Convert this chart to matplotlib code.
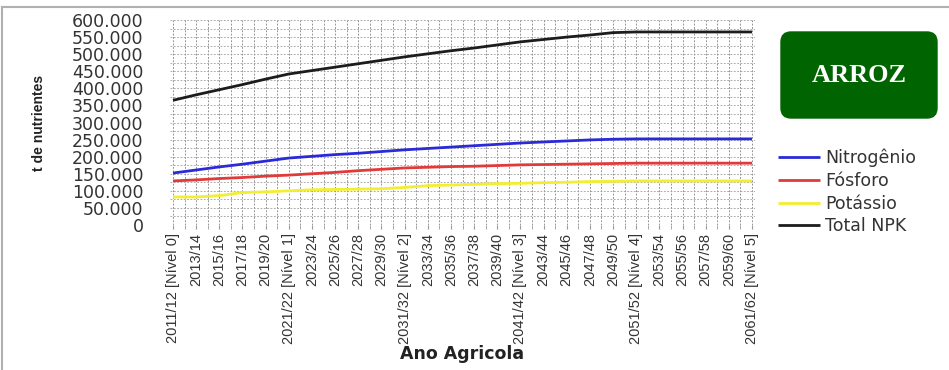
import matplotlib
matplotlib.use("Agg")
import matplotlib.pyplot as plt
from matplotlib.patches import FancyBboxPatch
from matplotlib.lines import Line2D
from matplotlib.ticker import FuncFormatter, MultipleLocator
import numpy as np

# Agricultural years (biennial steps) with target levels
categories = [
    "2011/12 [Nível 0]", "2013/14", "2015/16", "2017/18", "2019/20",
    "2021/22 [Nível 1]", "2023/24", "2025/26", "2027/28", "2029/30",
    "2031/32 [Nível 2]", "2033/34", "2035/36", "2037/38", "2039/40",
    "2041/42 [Nível 3]", "2043/44", "2045/46", "2047/48", "2049/50",
    "2051/52 [Nível 4]", "2053/54", "2055/56", "2057/58", "2059/60",
    "2061/62 [Nível 5]",
]

# Nutrient demand, tonnes
nitrogenio = [152000, 161000, 170000, 178000, 187000, 196000, 201000, 206000, 210000,
              215000, 220000, 224000, 228000, 232000, 236000, 240000, 243000, 246000,
              249000, 251000, 252000, 252000, 252000, 252000, 252000, 252000]
fosforo = [129000, 132000, 136000, 139000, 143000, 146000, 150000, 154000, 159000,
           163000, 167000, 169000, 171000, 172000, 174000, 176000, 177000, 178000,
           179000, 180000, 181000, 181000, 181000, 181000, 181000, 181000]
potassio = [82000, 82000, 86000, 95000, 97000, 100000, 103000, 104000, 105000,
            106000, 110000, 115000, 117000, 119000, 121000, 122000, 124000, 125000,
            127000, 128000, 129000, 129000, 129000, 129000, 129000, 129000]
total_npk = [365000, 381000, 396000, 411000, 427000, 442000, 452000, 462000, 472000,
             482000, 492000, 501000, 510000, 518000, 527000, 536000, 543000, 550000,
             556000, 563000, 565000, 565000, 565000, 565000, 565000, 565000]

series_names = ["Nitrogênio", "Fósforo", "Potássio", "Total NPK"]
series_colors = ["#2a2ad8", "#e03a3a", "#f2ee30", "#1c1c1c"]

W, H = 949, 370
fig = plt.figure(figsize=(W / 100, H / 100), dpi=100)
fig.patch.set_facecolor("white")

left_px, right_px, top_px, bottom_px = 170, 755, 20, 225
ax = fig.add_axes([left_px / W, 1 - bottom_px / H,
                   (right_px - left_px) / W, (bottom_px - top_px) / H])

x = np.arange(len(categories))
for vals, name, col in zip([nitrogenio, fosforo, potassio, total_npk],
                           series_names, series_colors):
    ax.plot(x, vals, color=col, lw=2.0, label=name, solid_capstyle="butt", zorder=3)

ax.set_xlim(-0.13, len(categories) - 1 + 0.13)
ax.set_ylim(0, 600000)

# grid: yearly vertical lines, 25.000 t horizontal lines
ax.set_xticks(x)
ax.xaxis.set_minor_locator(MultipleLocator(0.5))
ax.yaxis.set_major_locator(MultipleLocator(50000))
ax.yaxis.set_minor_locator(MultipleLocator(25000))
ax.grid(which="both", axis="x", color="#808080", lw=0.6, ls=(0, (2.2, 1.8)), zorder=1)
ax.grid(which="both", axis="y", color="#a0a0a0", lw=0.6, ls=(0, (2.2, 1.8)), zorder=1)
for s in ax.spines.values():
    s.set_visible(False)

ax.yaxis.set_major_formatter(FuncFormatter(lambda v, p: f"{v:,.0f}".replace(",", ".")))
ax.tick_params(axis="y", which="both", length=0, pad=19, labelsize=12.5,
               labelcolor="#333333")
ax.tick_params(axis="x", which="major", length=3, color="#999999", pad=3)
ax.tick_params(axis="x", which="minor", length=3, color="#999999")
ax.set_xticklabels(categories, rotation=90, ha="center", va="top",
                   family=["Liberation Sans Narrow", "Liberation Sans"], fontsize=10.5,
                   color="#333333")

ax.set_ylabel("t de nutrientes", fontsize=10, fontweight="bold",
              family="Liberation Sans", color="#222222")
ax.yaxis.set_label_coords(-0.212, 0.5)
ax.set_xlabel("Ano Agricola", fontsize=12.5, fontweight="bold", color="#222222")
ax.xaxis.set_label_coords(0.5, -0.585)

# legend on the right
leg = fig.legend(loc="center left", bbox_to_anchor=(778 / W, 1 - 192 / H),
                 frameon=False, fontsize=12.5, handlelength=2.4, handletextpad=0.3,
                 labelspacing=0.27, borderpad=0, borderaxespad=0)
for t in leg.get_texts():
    t.set_color("#333333")

# crop badge (inch coordinates keep the corners round)
box = FancyBboxPatch((7.81, (H - 118) / 100), 1.56, 0.86,
                     boxstyle="round,pad=0,rounding_size=0.1",
                     transform=fig.dpi_scale_trans, facecolor="#006400",
                     edgecolor="#006400", lw=1)
fig.patches.append(box)
fig.text(859 / W, 1 - 76 / H, "ARROZ", color="white", fontsize=19,
         fontweight="bold", family="Liberation Serif", ha="center", va="center")

# outer frame (left and top edges)
fig.add_artist(Line2D([2 / W, 2 / W], [0, 1 - 7 / H], transform=fig.transFigure,
                      color="#b0b0b0", lw=1.5))
fig.add_artist(Line2D([2 / W, 1], [1 - 7 / H, 1 - 7 / H], transform=fig.transFigure,
                      color="#b0b0b0", lw=1.5))

fig.savefig("out.png", dpi=100)
